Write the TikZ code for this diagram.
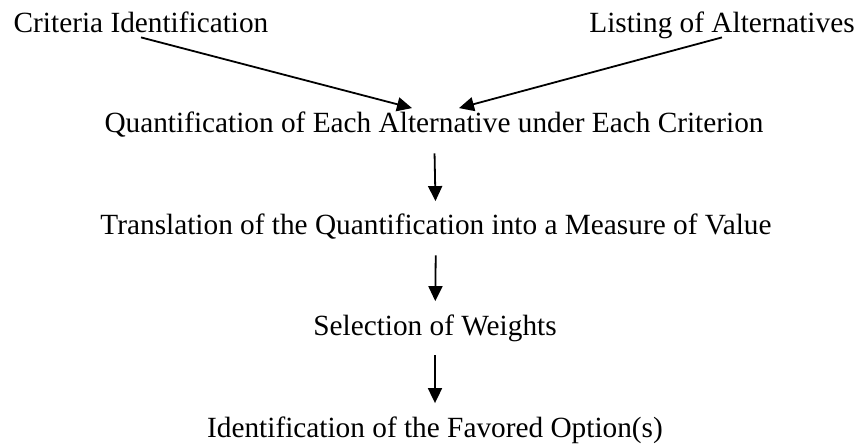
\documentclass[tikz,border=0pt]{standalone}
\usepackage{fontspec}
\setmainfont{Liberation Serif}
\usetikzlibrary{arrows.meta}

\begin{document}
\begin{tikzpicture}[->,>={Triangle[length=15pt,width=14pt]},line width=1.8pt,
                    x=1pt,y=1pt,
                    txt/.style={anchor=base,inner sep=0pt,text height=21pt,text depth=6.5pt,
                                font=\fontsize{29.3}{35}\selectfont},
                    down/.style={shorten <=13pt,shorten >=12pt}]
  \useasboundingbox (0,0) rectangle (860,445);

  \node[txt] (crit)  at (141,412) {Criteria Identification};
  \node[txt] (alts)  at (722,412) {Listing of Alternatives};
  \node[txt] (quant) at (434,312) {Quantification of Each Alternative under Each Criterion};
  \node[txt] (trans) at (436,210) {Translation of the Quantification into a Measure of Value};
  \node[txt] (wts)   at (435,110) {Selection of Weights};
  \node[txt] (fav)   at (435,8)   {Identification of the Favored Option(s)};

  \path ([yshift=3pt]crit.south) edge ([xshift=-22pt,yshift=3pt]quant.north);
  \path ([yshift=3pt]alts.south) edge ([xshift=25pt,yshift=3pt]quant.north);
  \path (quant) edge[down] (trans);
  \path (trans) edge[down] (wts);
  \path (wts)   edge[down] (fav);
\end{tikzpicture}
\end{document}
